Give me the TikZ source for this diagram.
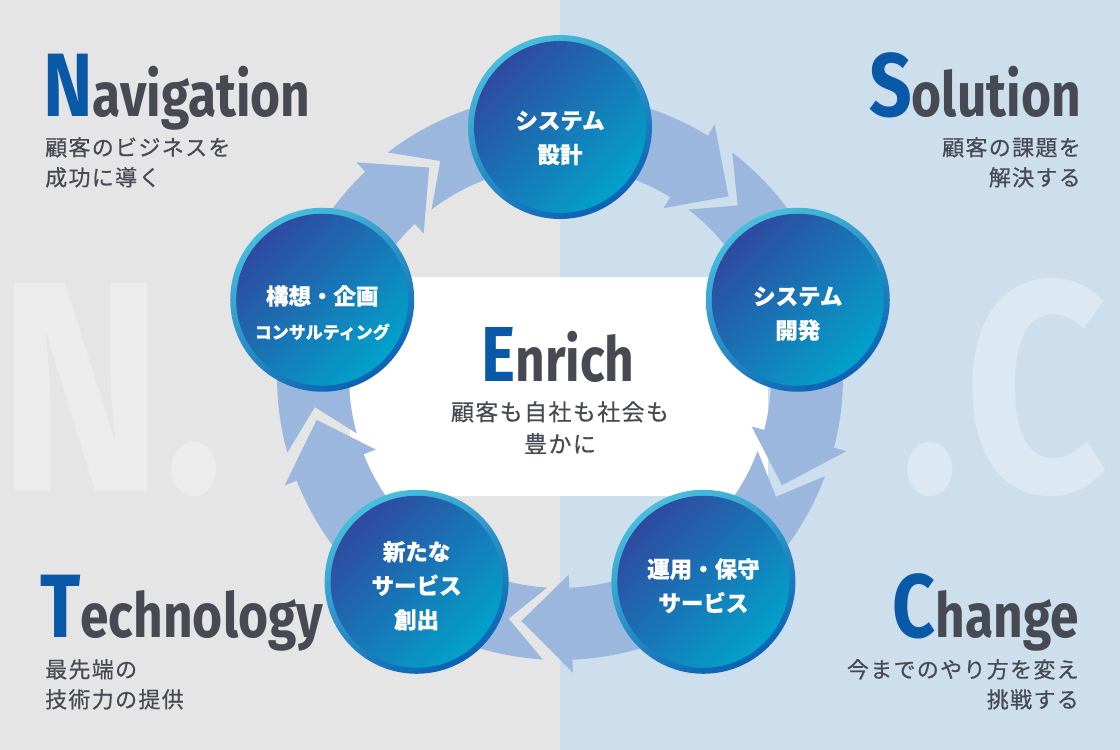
\documentclass[tikz,border=0pt]{standalone}
\usepackage{fontspec}
\usepackage{xcolor}
\setmainfont{Fira Sans}
\newfontfamily\dinfont[FakeStretch=0.83]{Fira Sans}
\newfontfamily\jpfont[BoldFeatures={FakeBold=0.6}]{Noto Sans CJK JP}
\newfontfamily\jpmid[FakeBold=0.5,LetterSpace=6]{Noto Sans CJK JP}
\definecolor{leftbg}{HTML}{E5E5E5}
\definecolor{rightbg}{HTML}{CDDFED}
\definecolor{ringblue}{HTML}{9BB7DD}
\definecolor{initblue}{HTML}{0A58A8}
\definecolor{inkgray}{HTML}{474A53}
\definecolor{rimlight}{HTML}{48BEDC}
\definecolor{rimdark}{HTML}{0B62B4}
\definecolor{disctop}{HTML}{30479F}
\definecolor{discbot}{HTML}{01A5CC}

\begin{document}
\begin{tikzpicture}[x=1pt,y=1pt,
    stage/.style={circle,minimum size=184pt,inner sep=0pt,
        top color=rimlight,bottom color=rimdark,shading angle=30,
        path picture={\shade[top color=disctop,bottom color=discbot,shading angle=45]
            (path picture bounding box.center) circle (86pt);}},
    stagetext/.style={inner sep=0pt,text=white,align=center,font=\jpfont\bfseries\fontsize{22.5}{34}\selectfont},
    heading/.style={inner sep=0pt,text=inkgray,font=\dinfont\bfseries\fontsize{62}{62}\selectfont},
    lead/.style={inner sep=0pt,text=inkgray,font=\jpmid\fontsize{22}{30}\selectfont},
    watermark/.style={inner sep=0pt,text=white,text opacity=0.3,font=\dinfont\bfseries\fontsize{300}{300}\selectfont}]
    \useasboundingbox (0,0) rectangle (1120,750);
    \clip (0,0) rectangle (1120,750);
    % halves of the background
    \fill[leftbg] (0,0) rectangle (560,750);
    \fill[rightbg] (560,0) rectangle (1120,750);
    \node[watermark,anchor=base east] (markL) at (224,258) {N.};
    \node[watermark,anchor=base west] (markR) at (900,258) {.\kern5pt C};
    \fill[white] (350,254) rectangle (768,473);
    % ring of five arrows
    \begin{scope}[shift={(560,373)}]
        \fill[ringblue] (187:247) -- (195.5:283) arc[start angle=195.5,end angle=133.5,radius=283] -- (133.5:296) -- (122:247) -- (133.5:198) -- (133.5:211) arc[start angle=133.5,end angle=195.5,radius=211] -- cycle;
        \fill[ringblue] (119:247) -- (127.5:283) arc[start angle=127.5,end angle=58.5,radius=283] -- (58.5:296) -- (47:247) -- (58.5:198) -- (58.5:211) arc[start angle=58.5,end angle=127.5,radius=211] -- cycle;
        \fill[ringblue] (44:247) -- (52.5:283) arc[start angle=52.5,end angle=-14.5,radius=283] -- (-14.5:296) -- (-26:247) -- (-14.5:198) -- (-14.5:211) arc[start angle=-14.5,end angle=52.5,radius=211] -- cycle;
        \fill[ringblue] (-29:247) -- (-20.5:283) arc[start angle=-20.5,end angle=-87.5,radius=283] -- (-87.5:296) -- (-99:247) -- (-87.5:198) -- (-87.5:211) arc[start angle=-87.5,end angle=-20.5,radius=211] -- cycle;
        \fill[ringblue] (-102:247) -- (-93.5:283) arc[start angle=-93.5,end angle=-158.5,radius=283] -- (-158.5:296) -- (-170:247) -- (-158.5:198) -- (-158.5:211) arc[start angle=-158.5,end angle=-93.5,radius=211] -- cycle;
        % the five stages
        \node[stage] (design) at (90:250) {};
        \node[stage] (develop) at (18:250) {};
        \node[stage] (operate) at (-55:250) {};
        \node[stage] (create) at (-125:250) {};
        \node[stage] (plan) at (162:250) {};
    \end{scope}
    \node[stagetext] (designtext) at ([yshift=-11]design.center) {システム\\設計};
    \node[stagetext] (developtext) at ([yshift=-14]develop.center) {システム\\開発};
    \node[stagetext] (operatetext) at ([yshift=-4]operate.center) {運用・保守\\サービス};
    \node[stagetext] (createtext) at ([yshift=-4]create.center) {新たな\\サービス\\創出};
    \node[stagetext] (plantext) at ([yshift=-13]plan.center) {構想・企画\\{\fontsize{17}{26}\selectfont コンサルティング}};
    % centre
    \node[heading,anchor=base,font=\dinfont\bfseries\fontsize{62}{62}\selectfont] (enrich) at (558,368) {{\fontsize{78}{78}\selectfont\color{initblue}E}nrich};
    \node[lead,anchor=north,align=center,font=\jpmid\fontsize{23}{32}\selectfont] (enrichsub) at (560,349) {顧客も自社も社会も\\豊かに};
    % corners
    \node[heading,anchor=base west] (nav) at (43,633) {{\fontsize{90}{90}\selectfont\color{initblue}N}avigation};
    \node[lead,anchor=north west,align=left] (navsub) at (45,613) {顧客のビジネスを\\成功に導く};
    \node[heading,anchor=base east] (sol) at (1081,633) {{\fontsize{90}{90}\selectfont\color{initblue}S}olution};
    \node[lead,anchor=north east,align=right] (solsub) at (1081,613) {顧客の課題を\\解決する};
    \node[heading,anchor=base west] (tech) at (40,112) {{\fontsize{90}{90}\selectfont\color{initblue}T}echnology};
    \node[lead,anchor=north west,align=left] (techsub) at (45,91) {最先端の\\技術力の提供};
    \node[heading,anchor=base east] (chg) at (1079,112) {{\fontsize{90}{90}\selectfont\color{initblue}C}hange};
    \node[lead,anchor=north east,align=right] (chgsub) at (1079,91) {今までのやり方を変え\\挑戦する};
\end{tikzpicture}
\end{document}
